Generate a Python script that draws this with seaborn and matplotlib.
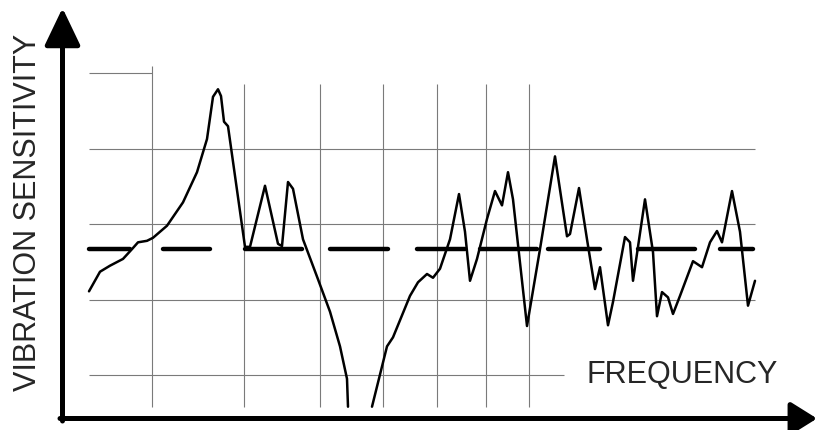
import matplotlib
matplotlib.use("Agg")
import matplotlib.pyplot as plt
import pandas as pd
import seaborn as sns

# frequency (arbitrary units) vs vibration sensitivity (dB-ish)
freq_low = [89, 100, 110, 123, 132, 138, 147, 153, 167, 183, 197, 207, 213, 218, 221, 224, 228,
            245, 250, 265, 278, 282, 288, 293, 303, 318, 330, 340, 347, 348]
sens_low = [11.1, 13.7, 14.5, 15.4, 16.7, 17.6, 17.8, 18.2, 19.8, 22.9, 26.9, 31.3, 36.9, 37.9, 37.0, 33.6, 33.0,
            17.0, 17.0, 25.1, 17.4, 17.1, 25.6, 24.7, 18.0, 12.7, 8.4, 3.8, -0.5, -4.2]

freq_high = [372, 387, 393, 410, 418, 427, 433, 440, 450, 459, 465, 470, 477, 487, 495, 502, 508, 513,
             527, 540, 555, 567, 570, 579, 587, 595, 600, 608, 613, 625, 630, 633, 645, 653, 657, 662,
             668, 673, 680, 693, 702, 710, 717, 722, 732, 740, 748, 755]
sens_high = [-4.2, 3.8, 5.0, 10.5, 12.3, 13.4, 12.9, 14.1, 18.0, 24.0, 19.0, 12.5, 15.4, 20.7, 24.4, 22.5, 26.9, 23.3,
             6.5, 16.7, 29.0, 18.4, 18.7, 24.8, 18.0, 11.4, 14.3, 6.6, 9.7, 18.3, 17.6, 12.5, 23.3, 16.3, 7.8, 11.0,
             10.3, 8.1, 10.5, 15.1, 14.3, 17.6, 19.1, 17.6, 24.4, 19.0, 9.2, 12.5]

# hand drawn mean level, broken into dashes
mean_level = 16.7
dash_start = [89, 163, 245, 330, 417, 480, 548, 638, 720]
dash_end = [130, 210, 302, 388, 465, 537, 600, 695, 753]

# graph paper grid
grid_levels = [0, 10, 20, 30]
grid_level_ends = [564, 755, 755, 755]
top_level = 40
grid_freqs = [244, 320, 383, 437, 486, 529]
first_freq = 152

curve_df = pd.concat([
    pd.DataFrame({"freq": freq_low, "sens": sens_low, "seg": 0}),
    pd.DataFrame({"freq": freq_high, "sens": sens_high, "seg": 1}),
])
dash_df = pd.DataFrame({
    "freq": [v for pair in zip(dash_start, dash_end) for v in pair],
    "sens": mean_level,
    "seg": [i for i in range(len(dash_start)) for _ in range(2)],
})

sns.set_style("white")
plt.rcParams["font.family"] = ["Liberation Sans", "DejaVu Sans"]

fig = plt.figure(figsize=(8.17, 4.31), dpi=100)
ax = fig.add_axes([0, 0, 1, 1])
ax.set_xlim(0, 817)
ax.set_ylim(-7.29, 49.87)
ax.axis("off")

grid_kw = dict(color="#7a7a7a", lw=0.8, zorder=1)
ax.hlines(grid_levels, 89, grid_level_ends, **grid_kw)
ax.hlines(top_level, 89, first_freq, **grid_kw)
ax.vlines(first_freq, -4.2, 41.0, **grid_kw)
ax.vlines(grid_freqs, -4.2, 38.6, **grid_kw)

sns.lineplot(data=dash_df, x="freq", y="sens", units="seg", estimator=None, sort=False,
             color="black", lw=3.2, ax=ax, legend=False, zorder=2)
sns.lineplot(data=curve_df, x="freq", y="sens", units="seg", estimator=None, sort=False,
             color="black", lw=1.8, ax=ax, legend=False, zorder=3,
             solid_joinstyle="round", solid_capstyle="round")

ax.text(587, 0.1, "FREQUENCY", fontsize=22, ha="left", va="center")
fig.text(28 / 817, 1 - 212 / 431, "VIBRATION SENSITIVITY", fontsize=22,
         rotation=90, ha="center", va="center")

# axis arrows
arrow = dict(arrowstyle="-|>,head_length=23,head_width=11", mutation_scale=1,
             color="black", lw=3.6, shrinkA=0, shrinkB=0)
ax.annotate("", xy=(62.5, 431 - 9), xytext=(62.5, 431 - 422), xycoords="figure pixels",
            textcoords="figure pixels", arrowprops=arrow)
arrow_x = dict(arrow, arrowstyle="-|>,head_length=16,head_width=10")
ax.annotate("", xy=(817, 431 - 419.5), xytext=(60, 431 - 419.5), xycoords="figure pixels",
            textcoords="figure pixels", arrowprops=arrow_x)

plt.savefig("out.png", dpi=100)
